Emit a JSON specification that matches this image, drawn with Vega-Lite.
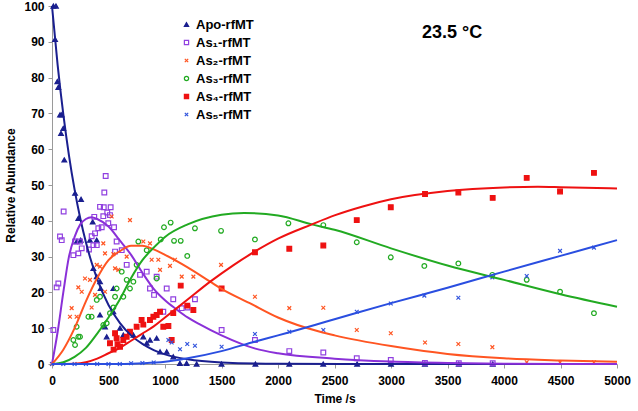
{
  "$schema": "https://vega.github.io/schema/vega-lite/v6.json",
  "width": 565,
  "height": 358,
  "autosize": {"type": "none"},
  "padding": {"left": 52, "top": 6, "right": 21, "bottom": 47},
  "background": "white",
  "config": {
    "view": {"stroke": null},
    "font": "Liberation Sans",
    "axis": {
      "grid": false,
      "domainColor": "#9a9a9a",
      "tickColor": "#9a9a9a",
      "tickSize": 4,
      "labelFont": "Liberation Sans",
      "labelFontWeight": "bold",
      "labelFontSize": 12,
      "labelColor": "#000",
      "titleFont": "Liberation Sans",
      "titleFontWeight": "bold",
      "titleFontSize": 12,
      "titleColor": "#000"
    },
    "legend": {
      "orient": "none",
      "legendX": 128,
      "legendY": 12,
      "labelFont": "Liberation Sans",
      "labelFontWeight": "bold",
      "labelFontSize": 13,
      "labelColor": "#000",
      "rowPadding": 4,
      "symbolSize": 18,
      "symbolStrokeWidth": 1.2,
      "labelOffset": 3
    }
  },
  "datasets": {
    "fit": [
      {"s":"Apo-rfMT","t":0,"v":100},{"s":"Apo-rfMT","t":50,"v":83.5},{"s":"Apo-rfMT","t":100,"v":69.8},{"s":"Apo-rfMT","t":150,"v":58.3},{"s":"Apo-rfMT","t":200,"v":48.7},{"s":"Apo-rfMT","t":250,"v":40.7},{"s":"Apo-rfMT","t":300,"v":34},{"s":"Apo-rfMT","t":350,"v":28.4},{"s":"Apo-rfMT","t":400,"v":23.7},{"s":"Apo-rfMT","t":500,"v":16.5},{"s":"Apo-rfMT","t":600,"v":11.5},{"s":"Apo-rfMT","t":700,"v":8},{"s":"Apo-rfMT","t":800,"v":5.6},{"s":"Apo-rfMT","t":900,"v":3.9},{"s":"Apo-rfMT","t":1000,"v":2.7},{"s":"Apo-rfMT","t":1200,"v":1.3},{"s":"Apo-rfMT","t":1500,"v":0.45},{"s":"Apo-rfMT","t":2000,"v":0.07},{"s":"Apo-rfMT","t":3000,"v":0},{"s":"Apo-rfMT","t":4000,"v":0},{"s":"Apo-rfMT","t":5000,"v":0},
      {"s":"As₁-rfMT","t":0,"v":0},{"s":"As₁-rfMT","t":50,"v":9},{"s":"As₁-rfMT","t":100,"v":20},{"s":"As₁-rfMT","t":150,"v":30},{"s":"As₁-rfMT","t":200,"v":35.5},{"s":"As₁-rfMT","t":250,"v":39},{"s":"As₁-rfMT","t":300,"v":40.5},{"s":"As₁-rfMT","t":350,"v":41},{"s":"As₁-rfMT","t":400,"v":40.5},{"s":"As₁-rfMT","t":500,"v":38.4},{"s":"As₁-rfMT","t":600,"v":34.5},{"s":"As₁-rfMT","t":700,"v":30.5},{"s":"As₁-rfMT","t":800,"v":25.5},{"s":"As₁-rfMT","t":900,"v":21},{"s":"As₁-rfMT","t":1000,"v":17.8},{"s":"As₁-rfMT","t":1100,"v":15.3},{"s":"As₁-rfMT","t":1200,"v":13},{"s":"As₁-rfMT","t":1300,"v":11.2},{"s":"As₁-rfMT","t":1500,"v":8},{"s":"As₁-rfMT","t":1800,"v":4.3},{"s":"As₁-rfMT","t":2000,"v":3},{"s":"As₁-rfMT","t":2500,"v":1.5},{"s":"As₁-rfMT","t":3000,"v":0.7},{"s":"As₁-rfMT","t":3500,"v":0.3},{"s":"As₁-rfMT","t":4000,"v":0.1},{"s":"As₁-rfMT","t":5000,"v":0},
      {"s":"As₂-rfMT","t":0,"v":0},{"s":"As₂-rfMT","t":100,"v":4},{"s":"As₂-rfMT","t":200,"v":10},{"s":"As₂-rfMT","t":300,"v":17.5},{"s":"As₂-rfMT","t":400,"v":24},{"s":"As₂-rfMT","t":500,"v":29},{"s":"As₂-rfMT","t":600,"v":31.5},{"s":"As₂-rfMT","t":700,"v":33},{"s":"As₂-rfMT","t":800,"v":33},{"s":"As₂-rfMT","t":900,"v":32},{"s":"As₂-rfMT","t":1000,"v":30.5},{"s":"As₂-rfMT","t":1200,"v":27},{"s":"As₂-rfMT","t":1400,"v":23},{"s":"As₂-rfMT","t":1500,"v":21},{"s":"As₂-rfMT","t":1750,"v":17},{"s":"As₂-rfMT","t":2000,"v":13},{"s":"As₂-rfMT","t":2372,"v":9},{"s":"As₂-rfMT","t":2500,"v":8},{"s":"As₂-rfMT","t":3000,"v":5},{"s":"As₂-rfMT","t":3500,"v":2.8},{"s":"As₂-rfMT","t":4000,"v":1.6},{"s":"As₂-rfMT","t":4500,"v":1},{"s":"As₂-rfMT","t":5000,"v":0.6},
      {"s":"As₃-rfMT","t":0,"v":0},{"s":"As₃-rfMT","t":100,"v":0.5},{"s":"As₃-rfMT","t":200,"v":2},{"s":"As₃-rfMT","t":300,"v":4.5},{"s":"As₃-rfMT","t":400,"v":8.5},{"s":"As₃-rfMT","t":500,"v":13},{"s":"As₃-rfMT","t":600,"v":18},{"s":"As₃-rfMT","t":700,"v":24},{"s":"As₃-rfMT","t":800,"v":29},{"s":"As₃-rfMT","t":900,"v":32.5},{"s":"As₃-rfMT","t":1000,"v":35.5},{"s":"As₃-rfMT","t":1200,"v":39},{"s":"As₃-rfMT","t":1500,"v":41.7},{"s":"As₃-rfMT","t":1700,"v":42.2},{"s":"As₃-rfMT","t":2000,"v":41.5},{"s":"As₃-rfMT","t":2300,"v":39},{"s":"As₃-rfMT","t":2500,"v":37.5},{"s":"As₃-rfMT","t":3000,"v":32.3},{"s":"As₃-rfMT","t":3500,"v":27.5},{"s":"As₃-rfMT","t":4000,"v":23.5},{"s":"As₃-rfMT","t":4500,"v":19.5},{"s":"As₃-rfMT","t":5000,"v":16},
      {"s":"As₄-rfMT","t":0,"v":0},{"s":"As₄-rfMT","t":200,"v":0.1},{"s":"As₄-rfMT","t":300,"v":0.5},{"s":"As₄-rfMT","t":400,"v":1.5},{"s":"As₄-rfMT","t":500,"v":3},{"s":"As₄-rfMT","t":600,"v":4.5},{"s":"As₄-rfMT","t":700,"v":6.5},{"s":"As₄-rfMT","t":800,"v":8.5},{"s":"As₄-rfMT","t":900,"v":10.5},{"s":"As₄-rfMT","t":1000,"v":13},{"s":"As₄-rfMT","t":1200,"v":18},{"s":"As₄-rfMT","t":1400,"v":23},{"s":"As₄-rfMT","t":1600,"v":27.5},{"s":"As₄-rfMT","t":1800,"v":31.5},{"s":"As₄-rfMT","t":2000,"v":35},{"s":"As₄-rfMT","t":2300,"v":39},{"s":"As₄-rfMT","t":2500,"v":41.5},{"s":"As₄-rfMT","t":2750,"v":44},{"s":"As₄-rfMT","t":3000,"v":46},{"s":"As₄-rfMT","t":3500,"v":48.3},{"s":"As₄-rfMT","t":4000,"v":49.3},{"s":"As₄-rfMT","t":4300,"v":49.5},{"s":"As₄-rfMT","t":4500,"v":49.4},{"s":"As₄-rfMT","t":5000,"v":49},
      {"s":"As₅-rfMT","t":0,"v":0},{"s":"As₅-rfMT","t":500,"v":0},{"s":"As₅-rfMT","t":700,"v":0.1},{"s":"As₅-rfMT","t":800,"v":0.2},{"s":"As₅-rfMT","t":1000,"v":0.6},{"s":"As₅-rfMT","t":1200,"v":1.6},{"s":"As₅-rfMT","t":1500,"v":3.6},{"s":"As₅-rfMT","t":1800,"v":6.3},{"s":"As₅-rfMT","t":2000,"v":8},{"s":"As₅-rfMT","t":2500,"v":12.5},{"s":"As₅-rfMT","t":3000,"v":17},{"s":"As₅-rfMT","t":3500,"v":21.3},{"s":"As₅-rfMT","t":4000,"v":25.8},{"s":"As₅-rfMT","t":4500,"v":30.2},{"s":"As₅-rfMT","t":5000,"v":34.6}
    ],
    "pts": [
      {"s":"Apo-rfMT","t":12,"v":100},{"s":"Apo-rfMT","t":35,"v":100},{"s":"Apo-rfMT","t":27,"v":90.7},{"s":"Apo-rfMT","t":47,"v":78.9},{"s":"Apo-rfMT","t":56,"v":77.3},{"s":"Apo-rfMT","t":71,"v":69.6},{"s":"Apo-rfMT","t":86,"v":69.6},{"s":"Apo-rfMT","t":80,"v":64.4},{"s":"Apo-rfMT","t":100,"v":65.8},{"s":"Apo-rfMT","t":109,"v":57},{"s":"Apo-rfMT","t":204,"v":47.7},{"s":"Apo-rfMT","t":257,"v":46},{"s":"Apo-rfMT","t":233,"v":40.7},{"s":"Apo-rfMT","t":218,"v":34.2},{"s":"Apo-rfMT","t":254,"v":34.6},{"s":"Apo-rfMT","t":396,"v":34.6},{"s":"Apo-rfMT","t":360,"v":39.7},{"s":"Apo-rfMT","t":336,"v":34.6},{"s":"Apo-rfMT","t":366,"v":26.7},{"s":"Apo-rfMT","t":396,"v":24.4},{"s":"Apo-rfMT","t":425,"v":23},{"s":"Apo-rfMT","t":430,"v":21.1},{"s":"Apo-rfMT","t":543,"v":21.1},{"s":"Apo-rfMT","t":425,"v":13.7},{"s":"Apo-rfMT","t":543,"v":14.6},{"s":"Apo-rfMT","t":602,"v":10},{"s":"Apo-rfMT","t":631,"v":8.1},{"s":"Apo-rfMT","t":720,"v":8.1},{"s":"Apo-rfMT","t":484,"v":7.6},{"s":"Apo-rfMT","t":469,"v":10.4},{"s":"Apo-rfMT","t":808,"v":7.6},{"s":"Apo-rfMT","t":867,"v":6.7},{"s":"Apo-rfMT","t":926,"v":7.2},{"s":"Apo-rfMT","t":838,"v":5.8},{"s":"Apo-rfMT","t":956,"v":3.4},{"s":"Apo-rfMT","t":1015,"v":3.4},{"s":"Apo-rfMT","t":1073,"v":2},{"s":"Apo-rfMT","t":1132,"v":0.2},{"s":"Apo-rfMT","t":1191,"v":0.2},{"s":"Apo-rfMT","t":1280,"v":0},{"s":"Apo-rfMT","t":1500,"v":0},{"s":"Apo-rfMT","t":1800,"v":0},{"s":"Apo-rfMT","t":2100,"v":0},{"s":"Apo-rfMT","t":2400,"v":0},{"s":"Apo-rfMT","t":2700,"v":0},{"s":"Apo-rfMT","t":3000,"v":0},{"s":"Apo-rfMT","t":3300,"v":0},{"s":"Apo-rfMT","t":3600,"v":0},{"s":"Apo-rfMT","t":3900,"v":0},
      {"s":"As₁-rfMT","t":12,"v":9.5},{"s":"As₁-rfMT","t":41,"v":21.4},{"s":"As₁-rfMT","t":56,"v":22.5},{"s":"As₁-rfMT","t":71,"v":35.6},{"s":"As₁-rfMT","t":86,"v":34.6},{"s":"As₁-rfMT","t":103,"v":42.6},{"s":"As₁-rfMT","t":189,"v":30.4},{"s":"As₁-rfMT","t":204,"v":34.2},{"s":"As₁-rfMT","t":233,"v":30.9},{"s":"As₁-rfMT","t":248,"v":34.2},{"s":"As₁-rfMT","t":263,"v":32.3},{"s":"As₁-rfMT","t":327,"v":32},{"s":"As₁-rfMT","t":351,"v":35.7},{"s":"As₁-rfMT","t":366,"v":33.2},{"s":"As₁-rfMT","t":381,"v":36.5},{"s":"As₁-rfMT","t":374,"v":41.1},{"s":"As₁-rfMT","t":396,"v":33.2},{"s":"As₁-rfMT","t":410,"v":37.9},{"s":"As₁-rfMT","t":425,"v":43.9},{"s":"As₁-rfMT","t":440,"v":38.2},{"s":"As₁-rfMT","t":454,"v":41.3},{"s":"As₁-rfMT","t":458,"v":43.8},{"s":"As₁-rfMT","t":463,"v":47.9},{"s":"As₁-rfMT","t":475,"v":52.5},{"s":"As₁-rfMT","t":489,"v":42.3},{"s":"As₁-rfMT","t":498,"v":39.3},{"s":"As₁-rfMT","t":513,"v":41.6},{"s":"As₁-rfMT","t":519,"v":43.8},{"s":"As₁-rfMT","t":549,"v":38.2},{"s":"As₁-rfMT","t":558,"v":31.4},{"s":"As₁-rfMT","t":572,"v":34.2},{"s":"As₁-rfMT","t":617,"v":31.8},{"s":"As₁-rfMT","t":661,"v":27.7},{"s":"As₁-rfMT","t":779,"v":24.9},{"s":"As₁-rfMT","t":838,"v":25.8},{"s":"As₁-rfMT","t":867,"v":21.1},{"s":"As₁-rfMT","t":903,"v":19.3},{"s":"As₁-rfMT","t":926,"v":24.4},{"s":"As₁-rfMT","t":985,"v":14.6},{"s":"As₁-rfMT","t":1015,"v":21.1},{"s":"As₁-rfMT","t":1073,"v":18.1},{"s":"As₁-rfMT","t":1148,"v":15.6},{"s":"As₁-rfMT","t":1200,"v":15.8},{"s":"As₁-rfMT","t":1265,"v":18.1},{"s":"As₁-rfMT","t":1501,"v":9.5},{"s":"As₁-rfMT","t":1796,"v":6.7},{"s":"As₁-rfMT","t":2100,"v":3.6},{"s":"As₁-rfMT","t":2401,"v":3.2},{"s":"As₁-rfMT","t":2697,"v":1.6},{"s":"As₁-rfMT","t":2998,"v":1.1},{"s":"As₁-rfMT","t":3300,"v":0.3},{"s":"As₁-rfMT","t":3600,"v":0.2},{"s":"As₁-rfMT","t":3900,"v":0.2},
      {"s":"As₂-rfMT","t":0,"v":0},{"s":"As₂-rfMT","t":159,"v":13.2},{"s":"As₂-rfMT","t":174,"v":15.6},{"s":"As₂-rfMT","t":218,"v":13.2},{"s":"As₂-rfMT","t":233,"v":21.4},{"s":"As₂-rfMT","t":263,"v":20.2},{"s":"As₂-rfMT","t":292,"v":23.9},{"s":"As₂-rfMT","t":336,"v":23.5},{"s":"As₂-rfMT","t":351,"v":15.8},{"s":"As₂-rfMT","t":381,"v":19.3},{"s":"As₂-rfMT","t":396,"v":27.7},{"s":"As₂-rfMT","t":425,"v":27.2},{"s":"As₂-rfMT","t":454,"v":33.7},{"s":"As₂-rfMT","t":469,"v":30.9},{"s":"As₂-rfMT","t":469,"v":20.2},{"s":"As₂-rfMT","t":528,"v":41.2},{"s":"As₂-rfMT","t":543,"v":30.7},{"s":"As₂-rfMT","t":558,"v":26.7},{"s":"As₂-rfMT","t":587,"v":26.3},{"s":"As₂-rfMT","t":661,"v":30},{"s":"As₂-rfMT","t":690,"v":40.2},{"s":"As₂-rfMT","t":808,"v":34.2},{"s":"As₂-rfMT","t":867,"v":33.7},{"s":"As₂-rfMT","t":882,"v":29.1},{"s":"As₂-rfMT","t":941,"v":29.1},{"s":"As₂-rfMT","t":956,"v":26.3},{"s":"As₂-rfMT","t":1044,"v":27.4},{"s":"As₂-rfMT","t":1088,"v":29.1},{"s":"As₂-rfMT","t":1148,"v":24.4},{"s":"As₂-rfMT","t":1251,"v":24.4},{"s":"As₂-rfMT","t":1496,"v":27.7},{"s":"As₂-rfMT","t":1796,"v":18.8},{"s":"As₂-rfMT","t":2100,"v":15.6},{"s":"As₂-rfMT","t":2401,"v":15.7},{"s":"As₂-rfMT","t":2697,"v":9.5},{"s":"As₂-rfMT","t":2998,"v":8.6},{"s":"As₂-rfMT","t":3301,"v":6},{"s":"As₂-rfMT","t":3596,"v":5.6},{"s":"As₂-rfMT","t":3897,"v":4.7},{"s":"As₂-rfMT","t":4201,"v":0.5},{"s":"As₂-rfMT","t":4496,"v":0.5},{"s":"As₂-rfMT","t":4796,"v":0.5},
      {"s":"As₃-rfMT","t":189,"v":6.7},{"s":"As₃-rfMT","t":204,"v":5.3},{"s":"As₃-rfMT","t":218,"v":10.4},{"s":"As₃-rfMT","t":233,"v":7.6},{"s":"As₃-rfMT","t":248,"v":7.6},{"s":"As₃-rfMT","t":322,"v":13.2},{"s":"As₃-rfMT","t":351,"v":13.2},{"s":"As₃-rfMT","t":396,"v":17.9},{"s":"As₃-rfMT","t":425,"v":18.8},{"s":"As₃-rfMT","t":454,"v":10.9},{"s":"As₃-rfMT","t":484,"v":11.4},{"s":"As₃-rfMT","t":513,"v":14.2},{"s":"As₃-rfMT","t":543,"v":15.8},{"s":"As₃-rfMT","t":558,"v":18.8},{"s":"As₃-rfMT","t":572,"v":21.1},{"s":"As₃-rfMT","t":617,"v":25.8},{"s":"As₃-rfMT","t":631,"v":18.8},{"s":"As₃-rfMT","t":661,"v":23.5},{"s":"As₃-rfMT","t":690,"v":21.1},{"s":"As₃-rfMT","t":720,"v":23},{"s":"As₃-rfMT","t":749,"v":27.7},{"s":"As₃-rfMT","t":764,"v":34.2},{"s":"As₃-rfMT","t":838,"v":31.8},{"s":"As₃-rfMT","t":926,"v":23.9},{"s":"As₃-rfMT","t":962,"v":34.8},{"s":"As₃-rfMT","t":991,"v":38.2},{"s":"As₃-rfMT","t":1050,"v":39.5},{"s":"As₃-rfMT","t":1080,"v":34.4},{"s":"As₃-rfMT","t":1139,"v":34.4},{"s":"As₃-rfMT","t":1197,"v":30.2},{"s":"As₃-rfMT","t":1265,"v":37.9},{"s":"As₃-rfMT","t":1496,"v":37.2},{"s":"As₃-rfMT","t":1796,"v":34.8},{"s":"As₃-rfMT","t":2092,"v":39.3},{"s":"As₃-rfMT","t":2401,"v":38.8},{"s":"As₃-rfMT","t":2697,"v":34},{"s":"As₃-rfMT","t":2998,"v":29.8},{"s":"As₃-rfMT","t":3295,"v":27.4},{"s":"As₃-rfMT","t":3596,"v":28.1},{"s":"As₃-rfMT","t":3897,"v":24.9},{"s":"As₃-rfMT","t":4201,"v":23.5},{"s":"As₃-rfMT","t":4496,"v":20.2},{"s":"As₃-rfMT","t":4796,"v":14.2},
      {"s":"As₄-rfMT","t":513,"v":5.8},{"s":"As₄-rfMT","t":545,"v":4},{"s":"As₄-rfMT","t":558,"v":8.6},{"s":"As₄-rfMT","t":572,"v":7.2},{"s":"As₄-rfMT","t":580,"v":5.5},{"s":"As₄-rfMT","t":602,"v":4.8},{"s":"As₄-rfMT","t":631,"v":6.7},{"s":"As₄-rfMT","t":661,"v":7.6},{"s":"As₄-rfMT","t":690,"v":9},{"s":"As₄-rfMT","t":749,"v":10.4},{"s":"As₄-rfMT","t":793,"v":12.3},{"s":"As₄-rfMT","t":808,"v":11},{"s":"As₄-rfMT","t":867,"v":12.3},{"s":"As₄-rfMT","t":897,"v":13.2},{"s":"As₄-rfMT","t":926,"v":13.7},{"s":"As₄-rfMT","t":956,"v":14.6},{"s":"As₄-rfMT","t":985,"v":10.4},{"s":"As₄-rfMT","t":1030,"v":10.6},{"s":"As₄-rfMT","t":1059,"v":6.7},{"s":"As₄-rfMT","t":1073,"v":14.2},{"s":"As₄-rfMT","t":1139,"v":21.9},{"s":"As₄-rfMT","t":1197,"v":16.3},{"s":"As₄-rfMT","t":1251,"v":15.1},{"s":"As₄-rfMT","t":1501,"v":21.1},{"s":"As₄-rfMT","t":1796,"v":31.2},{"s":"As₄-rfMT","t":2100,"v":32.2},{"s":"As₄-rfMT","t":2401,"v":33.1},{"s":"As₄-rfMT","t":2697,"v":40.2},{"s":"As₄-rfMT","t":2998,"v":43.8},{"s":"As₄-rfMT","t":3301,"v":47.5},{"s":"As₄-rfMT","t":3596,"v":47.9},{"s":"As₄-rfMT","t":3900,"v":46.4},{"s":"As₄-rfMT","t":4201,"v":52},{"s":"As₄-rfMT","t":4496,"v":48.2},{"s":"As₄-rfMT","t":4796,"v":53.4},
      {"s":"As₅-rfMT","t":0,"v":0},{"s":"As₅-rfMT","t":100,"v":0},{"s":"As₅-rfMT","t":200,"v":0},{"s":"As₅-rfMT","t":300,"v":0},{"s":"As₅-rfMT","t":400,"v":0},{"s":"As₅-rfMT","t":500,"v":0},{"s":"As₅-rfMT","t":600,"v":0},{"s":"As₅-rfMT","t":700,"v":0.2},{"s":"As₅-rfMT","t":800,"v":0.3},{"s":"As₅-rfMT","t":900,"v":0.4},{"s":"As₅-rfMT","t":1030,"v":6.7},{"s":"As₅-rfMT","t":1059,"v":6},{"s":"As₅-rfMT","t":1133,"v":4.1},{"s":"As₅-rfMT","t":1197,"v":5.6},{"s":"As₅-rfMT","t":1265,"v":5.1},{"s":"As₅-rfMT","t":1501,"v":4.8},{"s":"As₅-rfMT","t":1796,"v":8.4},{"s":"As₅-rfMT","t":2100,"v":9},{"s":"As₅-rfMT","t":2401,"v":9.5},{"s":"As₅-rfMT","t":2697,"v":14.6},{"s":"As₅-rfMT","t":2998,"v":16.9},{"s":"As₅-rfMT","t":3295,"v":19.1},{"s":"As₅-rfMT","t":3596,"v":18.5},{"s":"As₅-rfMT","t":3897,"v":24.2},{"s":"As₅-rfMT","t":4201,"v":24.6},{"s":"As₅-rfMT","t":4496,"v":31.6},{"s":"As₅-rfMT","t":4796,"v":32.5}
    ],
    "note": [{"t":3540,"v":92.5,"label":"23.5 °C"}]
  },
  "encoding": {
    "x": {"field": "t", "type": "quantitative", "scale": {"domain": [0, 5000], "nice": false},
          "axis": {"values": [0,500,1000,1500,2000,2500,3000,3500,4000,4500,5000], "format": "d", "title": "Time /s", "labelPadding": 7, "titlePadding": 7, "labelFlush": false, "labelOverlap": false}},
    "y": {"field": "v", "type": "quantitative", "scale": {"domain": [0, 100], "nice": false},
          "axis": {"values": [0,10,20,30,40,50,60,70,80,90,100], "format": "d", "title": "Relative Abundance", "labelPadding": 4, "titlePadding": 6, "labelOverlap": false}}
  },
  "layer": [
    {
      "data": {"name": "pts"},
      "mark": {"type": "point", "size": 22, "strokeWidth": 1.2, "opacity": 1},
      "encoding": {
        "shape": {"field": "s", "type": "nominal",
                  "scale": {"domain": ["Apo-rfMT","As₁-rfMT","As₂-rfMT","As₃-rfMT","As₄-rfMT","As₅-rfMT"],
                            "range": ["triangle-up","square","M-0.8,-0.8L0.8,0.8M-0.8,0.8L0.8,-0.8","circle","square","M-0.8,-0.8L0.8,0.8M-0.8,0.8L0.8,-0.8"]},
                  "legend": {"title": null}},
        "stroke": {"field": "s", "type": "nominal",
                   "scale": {"domain": ["Apo-rfMT","As₁-rfMT","As₂-rfMT","As₃-rfMT","As₄-rfMT","As₅-rfMT"],
                             "range": ["#1a1f8f","#9040e0","#ff5522","#22aa22","#ee1111","#3355dd"]},
                   "legend": {"title": null}},
        "fill": {"field": "s", "type": "nominal",
                 "scale": {"domain": ["Apo-rfMT","As₁-rfMT","As₂-rfMT","As₃-rfMT","As₄-rfMT","As₅-rfMT"],
                           "range": ["#1a1f8f","transparent","transparent","transparent","#ee1111","transparent"]},
                 "legend": {"title": null}}
      }
    },
    {
      "data": {"name": "fit"},
      "mark": {"type": "line", "strokeWidth": 2, "interpolate": "monotone"},
      "encoding": {
        "color": {"field": "s", "type": "nominal",
                  "scale": {"domain": ["Apo-rfMT","As₁-rfMT","As₂-rfMT","As₃-rfMT","As₄-rfMT","As₅-rfMT"],
                            "range": ["#1a1f8f","#8a30d8","#ff5522","#22aa22","#ee1111","#2a4ee0"]},
                  "legend": null}
      }
    },
    {
      "data": {"name": "note"},
      "mark": {"type": "text", "fontSize": 18, "fontWeight": "bold", "font": "Liberation Sans", "color": "#000"},
      "encoding": {
        "text": {"field": "label"}
      }
    }
  ]
}
